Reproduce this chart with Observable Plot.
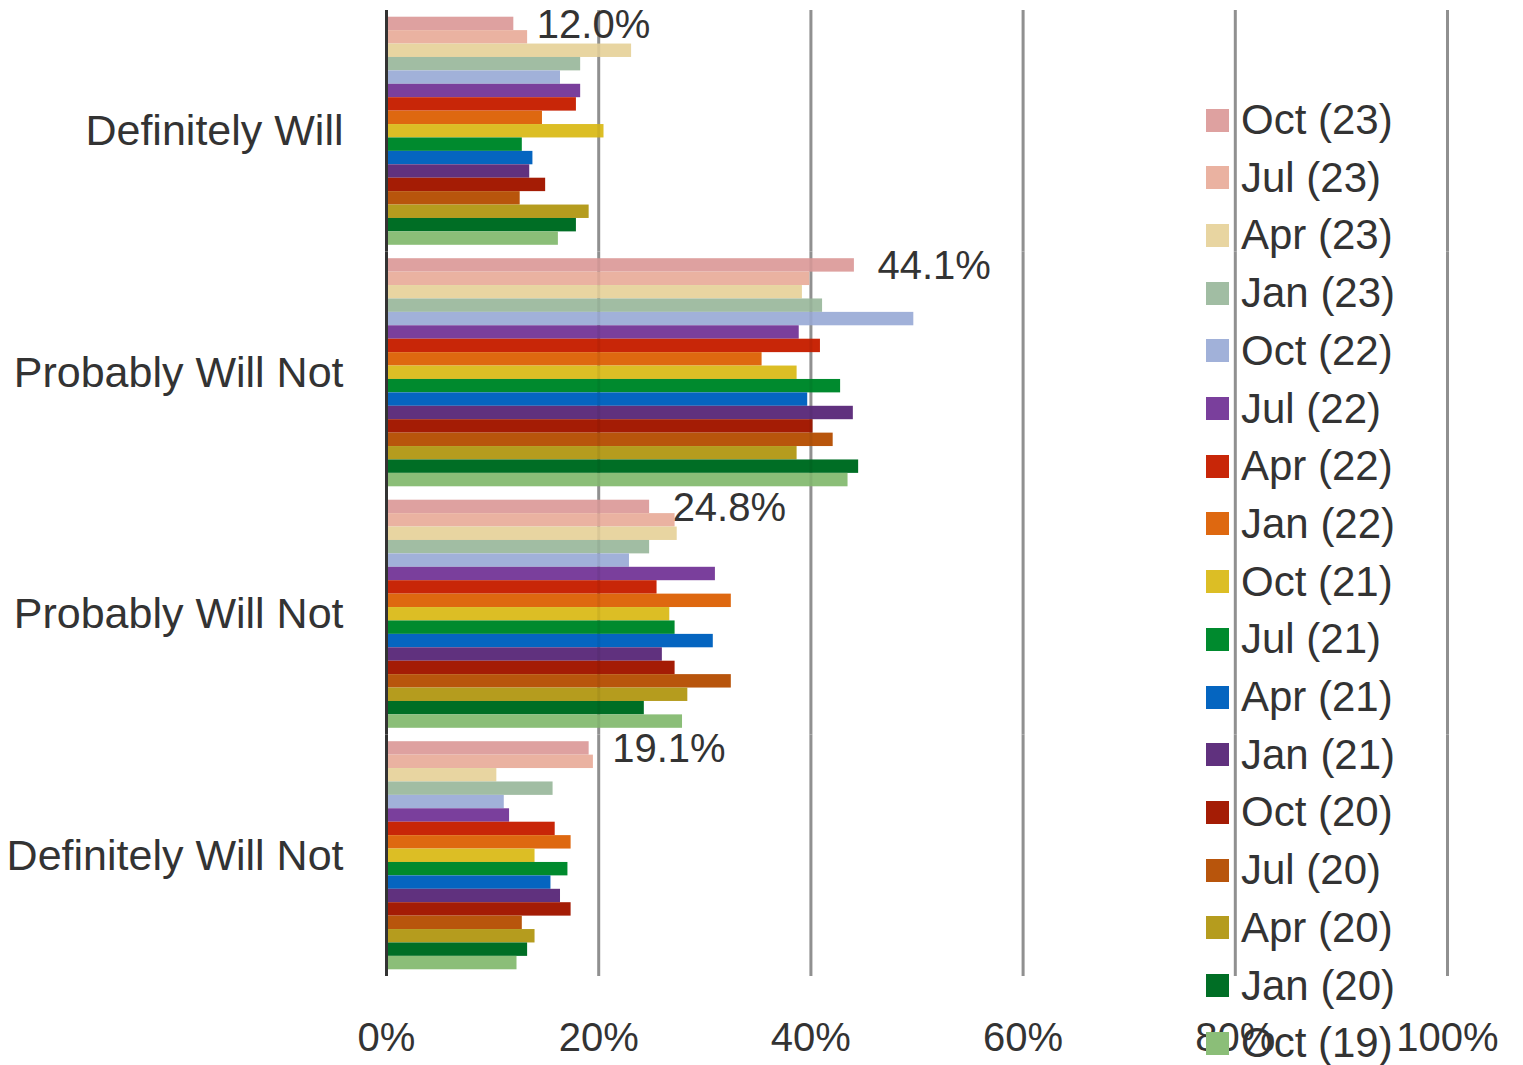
<!DOCTYPE html>
<html><head><meta charset="utf-8">
<script src="https://cdn.jsdelivr.net/npm/d3@7"></script>
<script src="https://cdn.jsdelivr.net/npm/@observablehq/plot@0.6"></script>
<style>
body{margin:0;background:#fff;font-family:"Liberation Sans",Arial,sans-serif;}
#wrap{position:relative;width:1523px;height:1065px;overflow:hidden;background:#fff}
#legend{position:absolute;left:1206px;top:0;width:317px;height:1065px}
.item{position:absolute;left:0;display:flex;align-items:center;white-space:nowrap;font-size:42px;color:#333;height:50px;line-height:50px}
.sw{width:23px;height:23px;margin-right:12px;flex:none}
</style></head><body><div id="wrap"><div id="chart"></div><div id="legend"></div></div>
<script>
const categories = ["Definitely Will", "Probably Will Not", "Probably Will Not", "Definitely Will Not"];
const series = ["Oct (23)", "Jul (23)", "Apr (23)", "Jan (23)", "Oct (22)", "Jul (22)", "Apr (22)", "Jan (22)",
  "Oct (21)", "Jul (21)", "Apr (21)", "Jan (21)", "Oct (20)", "Jul (20)", "Apr (20)", "Jan (20)", "Oct (19)"];
const colors = ["#dea1a0", "#eab2a1", "#e8d5a1", "#a1bda3", "#a1b1d9", "#7a3f9c", "#c82608", "#de6810",
  "#dcbe25", "#008a2e", "#0565c0", "#60317e", "#a41c05", "#b8550c", "#b59c1e", "#006e25", "#8bbe78"];
const xTicks = [0, 20, 40, 60, 80, 100];

const definitelyWill    = [12.0, 13.3, 23.1, 18.3, 16.4, 18.3, 17.9, 14.7, 20.5, 12.8, 13.8, 13.5, 15.0, 12.6, 19.1, 17.9, 16.2];
const probablyWillNotA  = [44.1, 39.9, 39.2, 41.1, 49.7, 38.9, 40.9, 35.4, 38.7, 42.8, 39.7, 44.0, 40.2, 42.1, 38.7, 44.5, 43.5];
const probablyWillNotB  = [24.8, 27.2, 27.4, 24.8, 22.9, 31.0, 25.5, 32.5, 26.7, 27.2, 30.8, 26.0, 27.2, 32.5, 28.4, 24.3, 27.9];
const definitelyWillNot = [19.1, 19.5, 10.4, 15.7, 11.1, 11.6, 15.9, 17.4, 14.0, 17.1, 15.5, 16.4, 17.4, 12.8, 14.0, 13.3, 12.3];

const valuesByCategory = [definitelyWill, probablyWillNotA, probablyWillNotB, definitelyWillNot];
const data = [];
valuesByCategory.forEach((vals, ci) => vals.forEach((v, si) => data.push({cat: ci, series: series[si], value: v})));

const chart = Plot.plot({
  width: 1523, height: 1065,
  marginLeft: 386, marginRight: 76, marginTop: 10, marginBottom: 89,
  style: {fontFamily: "'Liberation Sans', Arial, sans-serif", fontSize: "40px", color: "#333", background: "#fff"},
  x: {domain: [0, 100], ticks: xTicks, tickFormat: d => d + "%"},
  y: {domain: series, axis: null, paddingInner: 0, paddingOuter: 0.5, round: false},
  fy: {domain: [0, 1, 2, 3], paddingInner: 0, paddingOuter: 0, round: false},
  color: {domain: series, range: colors},
  marks: [
    Plot.gridX({ticks: xTicks.slice(1), stroke: "#9a9a9a", strokeOpacity: 1, strokeWidth: 3}),
    Plot.barX(data, {x: "value", y: "series", fy: "cat", fill: "series"}),
    Plot.gridX({ticks: xTicks.slice(1), stroke: "#000", strokeOpacity: 0.06, strokeWidth: 3}),
    Plot.ruleX([0], {stroke: "#333", strokeWidth: 3}),
    Plot.text(data.filter(d => d.series === series[0]), {
      x: "value", y: "series", fy: "cat", text: d => d.value.toFixed(1) + "%",
      textAnchor: "start", dx: 23, dy: 1, fontSize: 40, fill: "#333"
    }),
    Plot.axisFy({anchor: "left", tickSize: 0, tickPadding: 43, fontSize: 43, fill: "#333", tickFormat: i => categories[i], label: null}),
    Plot.axisX({anchor: "bottom", ticks: xTicks, tickSize: 0, tickPadding: 46, fontSize: 40, fill: "#333", tickFormat: d => d + "%", label: null})
  ]
});
document.getElementById("chart").appendChild(chart);

const legend = document.getElementById("legend");
series.forEach((s, i) => {
  const item = document.createElement("div");
  item.className = "item";
  item.style.top = (120 + 57.7 * i - 25) + "px";
  const sw = document.createElement("div");
  sw.className = "sw";
  sw.style.background = colors[i];
  const t = document.createElement("span");
  t.textContent = s;
  item.appendChild(sw);
  item.appendChild(t);
  legend.appendChild(item);
});
</script></body></html>
